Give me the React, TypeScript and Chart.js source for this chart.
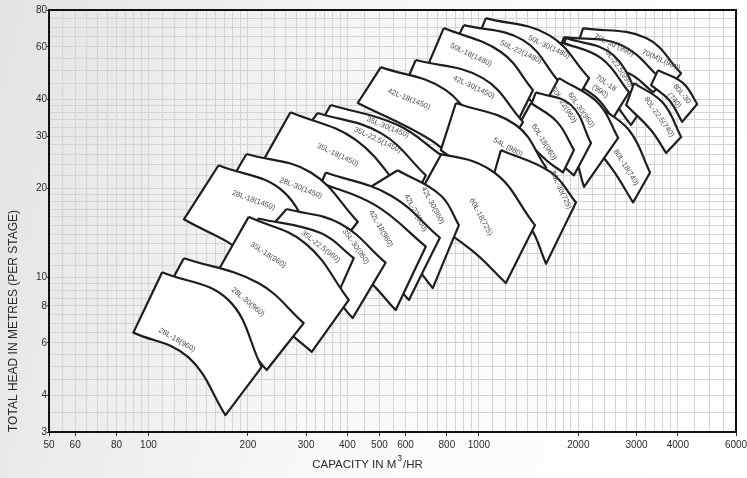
import { useEffect, useRef } from 'react';
import { Chart, registerables } from 'chart.js';

Chart.register(...registerables);

const FONT = '"Liberation Sans", Arial, Helvetica, sans-serif';

const xTickLabels = [50, 60, 80, 100, 200, 300, 400, 500, 600, 800, 1000, 2000, 3000, 4000, 6000];
const yTickLabels = [3, 4, 6, 8, 10, 20, 30, 40, 60, 80];
const xGridRanges = [[50, 100, 5], [100, 200, 10], [200, 400, 20], [400, 1000, 50], [1000, 2000, 100], [2000, 4000, 200], [4000, 6000, 500]];
const yGridRanges = [[3, 10, 0.5], [10, 20, 1], [20, 40, 2], [40, 80, 5]];

// pump ranges, listed from back to front (capacity m3/h, head m)
const pumpNames = [
  '70(M)L(980)', '70L-30 (990)', '70L-22.5(990)', '70L-18\n(990)', '80L-30\n(740)', '80L-22.5(740)', '80L-18(740)',
  '50L-30(1480)', '50L-22(1480)', '50L-18(1480)', '60L-30(960)', '60L-22(960)', '60L-18(960)',
  '42L-30(1450)', '42L-18(1450)', '54L (980)', '60L-30(725)', '60L-18(725)',
  '35L-30(1450)', '35L-22.5(1450)', '35L-18(1450)',
  '42L-30(960)', '42L-22(960)', '42L-18(960)',
  '28L-30(1450)', '28L-18(1450)',
  '35L-30(960)', '35L-22.5(960)', '35L-18(960)', '28L-30(960)', '28L-18(960)',
];
const topLeft = [
  [2067, 69.5], [1809, 64.8], [1835, 64.3], [1772, 62.3], [3487, 50.1], [2949, 45.3], [2263, 38.2],
  [1050, 75.1], [900, 71.1], [783, 69.5], [1748, 47.1], [1489, 42.2], [1438, 38.8],
  [644, 54.2], [505, 51.3], [852, 38.8], [1166, 26.9], [653, 27.1],
  [356, 38.2], [325, 35.9], [269, 36.1],
  [568, 23.0], [344, 22.6], [327, 21.0],
  [198, 26.1], [163, 23.9],
  [262, 17.0], [215, 15.8], [201, 16.0], [128, 11.6], [110, 10.4],
];
const topMid = [
  [3207, 64.3], [2694, 60.9], [2547, 56.4], [2343, 55.0], [4150, 45.3], [3610, 38.8], [2848, 31.4],
  [1630, 65.8], [1360, 63.3], [1166, 57.7], [2295, 38.8], [1900, 38.2], [1724, 33.5],
  [1028, 47.1], [794, 42.9], [1294, 32.7], [1653, 22.6], [1087, 23.0],
  [568, 32.7], [505, 30.7], [424, 29.1],
  [767, 18.9], [541, 18.9], [487, 17.5],
  [310, 22.6], [257, 19.4],
  [380, 15.2], [332, 14.1], [299, 13.0], [215, 9.56], [174, 8.4],
];
const topRight = [
  [4093, 48.9], [3635, 45.7], [3140, 37.6], [2848, 42.2], [4578, 38.5], [4093, 29.8], [3297, 22.6],
  [2155, 47.1], [1748, 45.7], [1458, 42.9], [2639, 29.6], [2185, 28.4], [1940, 26.9],
  [1360, 33.5], [1028, 29.8], [1597, 23.5], [1967, 17.9], [1478, 15.0],
  [767, 25.9], [691, 22.1], [601, 18.9],
  [870, 15.0], [762, 13.6], [691, 12.7],
  [430, 15.4], [327, 11.6],
  [522, 11.2], [418, 11.6], [404, 8.38], [295, 7.0], [220, 4.97],
];
const bottomRight = [
  [3764, 43.6], [3366, 42.2], [2888, 32.7], [2547, 34.5], [4122, 33.5], [3686, 26.3], [2928, 17.9],
  [1900, 36.7], [1542, 36.1], [1294, 32.7], [2081, 20.2], [1940, 22.1], [1797, 22.6],
  [1166, 24.9], [894, 23.4], [1389, 16.3], [1597, 11.1], [1207, 9.56],
  [622, 16.9], [560, 13.9], [487, 12.4],
  [725, 9.19], [614, 8.38], [560, 7.75],
  [332, 10.6], [260, 8.06],
  [415, 7.28], [356, 7.75], [312, 5.6], [228, 4.86], [171, 3.42],
];
const bottomMid = [
  [3097, 52.1], [2790, 49.3], [2426, 41.3], [2216, 41.3], [3764, 39.7], [3320, 31.4], [2547, 23.0],
  [1542, 48.2], [1268, 44.6], [1072, 39.7], [1900, 26.9], [1712, 24.9], [1597, 24.9],
  [946, 31.4], [715, 29.1], [1126, 19.7], [1418, 15.0], [946, 12.4],
  [487, 20.5], [439, 18.2], [382, 16.9],
  [580, 12.4], [487, 11.0], [439, 10.2],
  [251, 14.4], [197, 11.9],
  [332, 9.42], [269, 9.05], [234, 7.3], [171, 6.9], [132, 5.37],
];
const bottomLeft = [
  [1967, 58.6], [1712, 54.2], [1712, 52.1], [1630, 50.1], [3320, 44.6], [2790, 38.2], [2110, 30.2],
  [946, 56.4], [794, 53.4], [691, 50.1], [1489, 34.0], [1341, 31.4], [1294, 31.4],
  [580, 41.3], [430, 38.8], [767, 26.9], [1087, 20.5], [580, 18.2],
  [299, 26.9], [269, 26.9], [223, 24.9],
  [382, 17.5], [289, 14.2], [269, 13.4],
  [171, 19.7], [128, 15.7],
  [197, 11.9], [177, 11.2], [160, 10.2], [110, 8.5], [90, 6.5],
];
const labelPos = [
  [3560, 54.2], [2565, 60.9], [2639, 51.3], [2376, 43.9], [4009, 40.6], [3511, 34.8], [2790, 23.5],
  [1630, 60.0], [1341, 57.7], [946, 56.4], [2038, 36.7], [1809, 38.2], [1574, 28.6],
  [965, 43.9], [614, 40.0], [1224, 27.5], [1772, 19.7], [1014, 16.0],
  [530, 32.1], [494, 29.1], [374, 25.9],
  [725, 17.5], [644, 16.5], [505, 14.6],
  [289, 20.0], [208, 18.2],
  [424, 12.7], [332, 12.7], [230, 11.9], [200, 8.25], [122, 6.14],
];
const labelAngle = [
  25, 25, 55, 35, 50, 55, 58,
  25, 25, 25, 55, 58, 58,
  25, 22, 28, 65, 62,
  22, 25, 25,
  62, 62, 60,
  22, 20,
  55, 38, 33, 40, 30,
];

function expandGrid(ranges: number[][]) {
  const out: number[] = [];
  ranges.forEach(([a, b, s]) => {
    for (let v = a; v <= b + 1e-9; v += s) {
      const r = Math.round(v * 1000) / 1000;
      if (!out.includes(r)) out.push(r);
    }
  });
  return out;
}

export default function App() {
  const ref = useRef<HTMLCanvasElement>(null);

  useEffect(() => {
    document.body.style.margin = '0';
    const canvas = ref.current!;
    const xGrid = expandGrid(xGridRanges);
    const yGrid = expandGrid(yGridRanges);
    const n = pumpNames.length;

    const datasets = pumpNames.map((name, i) => {
      const seq = [topLeft[i], topMid[i], topRight[i], topRight[i], bottomRight[i], bottomRight[i], bottomMid[i], bottomLeft[i], bottomLeft[i], topLeft[i]];
      return {
        label: name,
        data: seq.map(([x, y]) => ({ x, y })),
        fill: 'shape',
        backgroundColor: '#ffffff',
        borderColor: '#1e1e1e',
        borderWidth: 2.2,
        borderJoinStyle: 'round',
        pointRadius: 0,
        pointHoverRadius: 0,
        tension: 0.4,
        order: n - i,
      };
    });

    const bgPlugin = {
      id: 'bg',
      beforeDraw(chart: any) {
        const { ctx, width, height } = chart;
        const g = ctx.createLinearGradient(0, 0, width, height * 0.4);
        g.addColorStop(0, '#e1e3e5');
        g.addColorStop(0.3, '#eeeff0');
        g.addColorStop(0.55, '#f9f9f9');
        g.addColorStop(1, '#ffffff');
        ctx.save();
        ctx.fillStyle = g;
        ctx.fillRect(0, 0, width, height);
        ctx.restore();
      },
    };

    const framePlugin = {
      id: 'frame',
      beforeDatasetsDraw(chart: any) {
        const { ctx, chartArea: a } = chart;
        ctx.save();
        ctx.strokeStyle = '#111';
        ctx.lineWidth = 2;
        ctx.beginPath();
        ctx.moveTo(a.left, a.top);
        ctx.lineTo(a.right, a.top);
        ctx.lineTo(a.right, a.bottom);
        ctx.stroke();
        ctx.restore();
      },
    };

    const labelPlugin = {
      id: 'pumpLabels',
      afterDatasetDraw(chart: any, args: any) {
        const i = args.index;
        const { ctx, scales } = chart;
        const px = scales.x.getPixelForValue(labelPos[i][0]);
        const py = scales.y.getPixelForValue(labelPos[i][1]);
        const lines = pumpNames[i].split('\n');
        ctx.save();
        ctx.beginPath();
        ctx.rect(chart.chartArea.left, chart.chartArea.top, chart.chartArea.right - chart.chartArea.left, chart.chartArea.bottom - chart.chartArea.top);
        ctx.clip();
        ctx.translate(px, py);
        ctx.rotate((labelAngle[i] * Math.PI) / 180);
        ctx.fillStyle = '#4a4a4a';
        ctx.font = `7.5px ${FONT}`;
        ctx.textAlign = 'center';
        ctx.textBaseline = 'middle';
        lines.forEach((t, k) => ctx.fillText(t, 0, (k - (lines.length - 1) / 2) * 10));
        ctx.restore();
      },
    };

    const xTitlePlugin = {
      id: 'xTitle',
      afterDraw(chart: any) {
        const { ctx } = chart;
        const cx = 367;
        const cy = 465;
        ctx.save();
        ctx.fillStyle = '#2a2a2a';
        ctx.textBaseline = 'middle';
        ctx.textAlign = 'left';
        const big = `11.5px ${FONT}`;
        const small = `8.5px ${FONT}`;
        ctx.font = big;
        const p1 = 'CAPACITY IN M';
        const p3 = '/HR';
        const w1 = ctx.measureText(p1).width;
        const w3 = ctx.measureText(p3).width;
        ctx.font = small;
        const w2 = ctx.measureText('3').width + 1;
        const total = w1 + w2 + w3;
        let x = cx - total / 2;
        ctx.font = big;
        ctx.fillText(p1, x, cy);
        x += w1 + 1;
        ctx.font = small;
        ctx.fillText('3', x, cy - 6);
        x += w2;
        ctx.font = big;
        ctx.fillText(p3, x, cy);
        ctx.restore();
      },
    };

    const chart = new Chart(canvas, {
      type: 'line',
      data: { datasets: datasets as any },
      options: {
        responsive: false,
        animation: false,
        devicePixelRatio: 1,
        events: [],
        layout: { padding: { left: 0, top: 10, right: 11, bottom: 0 } },
        plugins: { legend: { display: false }, tooltip: { enabled: false } },
        scales: {
          x: {
            type: 'logarithmic',
            min: 50,
            max: 6000,
            afterBuildTicks: (s: any) => {
              s.ticks = xGrid.map((v) => ({ value: v }));
            },
            afterFit: (s: any) => {
              s.height = 46;
              s.paddingLeft = 0;
              s.paddingRight = 0;
            },
            ticks: {
              autoSkip: false,
              maxRotation: 0,
              minRotation: 0,
              padding: 3,
              color: '#2a2a2a',
              font: { family: FONT, size: 10 },
              callback: (v: any) => (xTickLabels.includes(Number(v)) ? String(v) : ''),
            },
            grid: {
              color: '#d4d4d4',
              lineWidth: 1,
              tickLength: 4,
              tickColor: (c: any) => (c.tick && xTickLabels.includes(c.tick.value) ? '#333' : 'rgba(0,0,0,0)'),
            },
            border: { display: true, color: '#111', width: 2 },
          },
          y: {
            type: 'logarithmic',
            min: 3,
            max: 80,
            afterBuildTicks: (s: any) => {
              s.ticks = yGrid.map((v) => ({ value: v }));
            },
            afterFit: (s: any) => {
              s.width = 49;
              s.paddingTop = 0;
              s.paddingBottom = 0;
            },
            ticks: {
              autoSkip: false,
              padding: 0,
              color: '#2a2a2a',
              font: { family: FONT, size: 10 },
              callback: (v: any) => (yTickLabels.includes(Number(v)) ? String(v) : ''),
            },
            grid: {
              color: '#d4d4d4',
              lineWidth: 1,
              tickLength: 2,
              tickColor: (c: any) => (c.tick && yTickLabels.includes(c.tick.value) ? '#333' : 'rgba(0,0,0,0)'),
            },
            border: { display: true, color: '#111', width: 2 },
            title: {
              display: true,
              text: 'TOTAL HEAD IN METRES (PER STAGE)',
              align: 'start',
              color: '#2a2a2a',
              font: { family: FONT, size: 12 },
              padding: { top: 6, bottom: 0 },
            },
          },
        },
      },
      plugins: [bgPlugin, framePlugin, labelPlugin, xTitlePlugin],
    } as any);

    return () => chart.destroy();
  }, []);

  return (
    <div style={{ width: 747, height: 478 }}>
      <canvas ref={ref} width={747} height={478} />
    </div>
  );
}
